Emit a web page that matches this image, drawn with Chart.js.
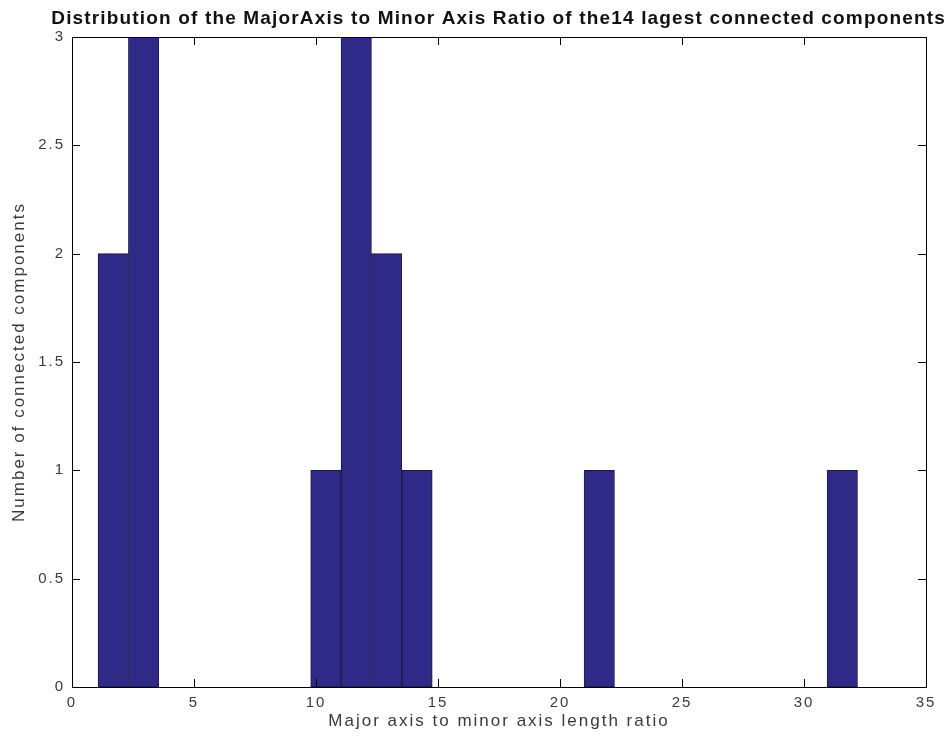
<!DOCTYPE html>
<html>
<head>
<meta charset="utf-8">
<script src="https://cdn.jsdelivr.net/npm/chart.js@4/dist/chart.umd.min.js"></script>
<style>
  html, body { margin: 0; padding: 0; background: #fff; }
  .wrap { width: 950px; height: 739px; }
</style>
</head>
<body>
<div class="wrap"><canvas id="hist"></canvas></div>
<script>
// histogram bins (bin centres, counts per bin)
const binCenters = [1.69, 2.935, 10.405, 11.65, 12.895, 14.14, 21.61, 31.57];
const counts = [2, 3, 1, 3, 2, 1, 1, 1];

const titleText = 'Distribution of the MajorAxis to Minor Axis Ratio of the14 lagest connected components';
const xTitle = 'Major axis to minor axis length ratio';
const yTitle = 'Number of connected components';

const fontFam = '"Liberation Sans", Arial, Helvetica, sans-serif';
const barFill = '#2f2a87';
const barEdge = '#1b1940';

// matlab text looks loosely spaced, so spread the letters a bit
const spacing = {
  id: 'spacing',
  beforeLayout(chart) { chart.ctx.letterSpacing = '2px'; },
  beforeDraw(chart) { chart.ctx.letterSpacing = '2px'; }
};

// box around the axes with ticks pointing inwards, plus the title
const matlabBox = {
  id: 'matlabBox',
  afterDatasetsDraw(chart) {
    const ctx = chart.ctx;
    const a = chart.chartArea;
    const xs = chart.scales.x, ys = chart.scales.y;
    const len = 8;
    ctx.save();
    ctx.strokeStyle = '#000';
    ctx.lineWidth = 1;
    ctx.beginPath();
    xs.ticks.forEach(t => {
      const px = Math.round(xs.getPixelForValue(t.value)) + 0.5;
      ctx.moveTo(px, a.bottom); ctx.lineTo(px, a.bottom - len);
      ctx.moveTo(px, a.top); ctx.lineTo(px, a.top + len);
    });
    ys.ticks.forEach(t => {
      const py = Math.round(ys.getPixelForValue(t.value)) + 0.5;
      ctx.moveTo(a.left, py); ctx.lineTo(a.left + len, py);
      ctx.moveTo(a.right, py); ctx.lineTo(a.right - len, py);
    });
    ctx.stroke();
    ctx.strokeRect(Math.round(a.left) + 0.5, Math.round(a.top) + 0.5,
                   Math.round(a.right - a.left), Math.round(a.bottom - a.top));
    ctx.restore();
  },
  afterDraw(chart) {
    const ctx = chart.ctx;
    ctx.save();
    ctx.font = 'bold 19px ' + fontFam;
    ctx.letterSpacing = '0px';
    // stretch the title to the width it has in the figure (x 50..945)
    const w = ctx.measureText(titleText).width;
    const ls = Math.max(0, (895 - w) / titleText.length);
    ctx.letterSpacing = ls.toFixed(2) + 'px';
    ctx.fillStyle = '#111';
    ctx.textAlign = 'center';
    ctx.textBaseline = 'middle';
    ctx.fillText(titleText, 498 + ls / 2, 19);
    ctx.restore();
  }
};

new Chart(document.getElementById('hist'), {
  type: 'bar',
  data: {
    datasets: [{
      data: binCenters.map((c, i) => ({ x: c, y: counts[i] })),
      backgroundColor: barFill,
      borderColor: barEdge,
      borderWidth: 1,
      borderSkipped: false,
      barPercentage: 1,
      categoryPercentage: 1
    }]
  },
  options: {
    responsive: true,
    maintainAspectRatio: false,
    animation: false,
    layout: { padding: { top: 37, right: 24, left: 0, bottom: 0 } },
    plugins: {
      legend: { display: false },
      title: { display: false },
      tooltip: { enabled: false }
    },
    scales: {
      x: {
        type: 'linear',
        min: 0,
        max: 35,
        offset: false,
        grid: { display: false, drawTicks: false },
        border: { display: false },
        ticks: {
          stepSize: 5,
          padding: 7,
          color: '#3a3a3a',
          font: { family: fontFam, size: 15 },
          maxRotation: 0
        },
        title: {
          display: true,
          text: xTitle,
          color: '#3a3a3a',
          font: { family: fontFam, size: 17 },
          padding: { top: 0, bottom: 7 }
        },
        afterFit(scale) { scale.height = 52; }
      },
      y: {
        min: 0,
        max: 3,
        grid: { display: false, drawTicks: false },
        border: { display: false },
        ticks: {
          stepSize: 0.5,
          padding: 7,
          color: '#3a3a3a',
          font: { family: fontFam, size: 15 },
          callback: v => String(v)
        },
        title: {
          display: true,
          text: yTitle,
          color: '#3a3a3a',
          font: { family: fontFam, size: 17 },
          padding: { top: 9, bottom: 0 }
        },
        afterFit(scale) { scale.width = 72; }
      }
    }
  },
  plugins: [spacing, matlabBox]
});
</script>
</body>
</html>
